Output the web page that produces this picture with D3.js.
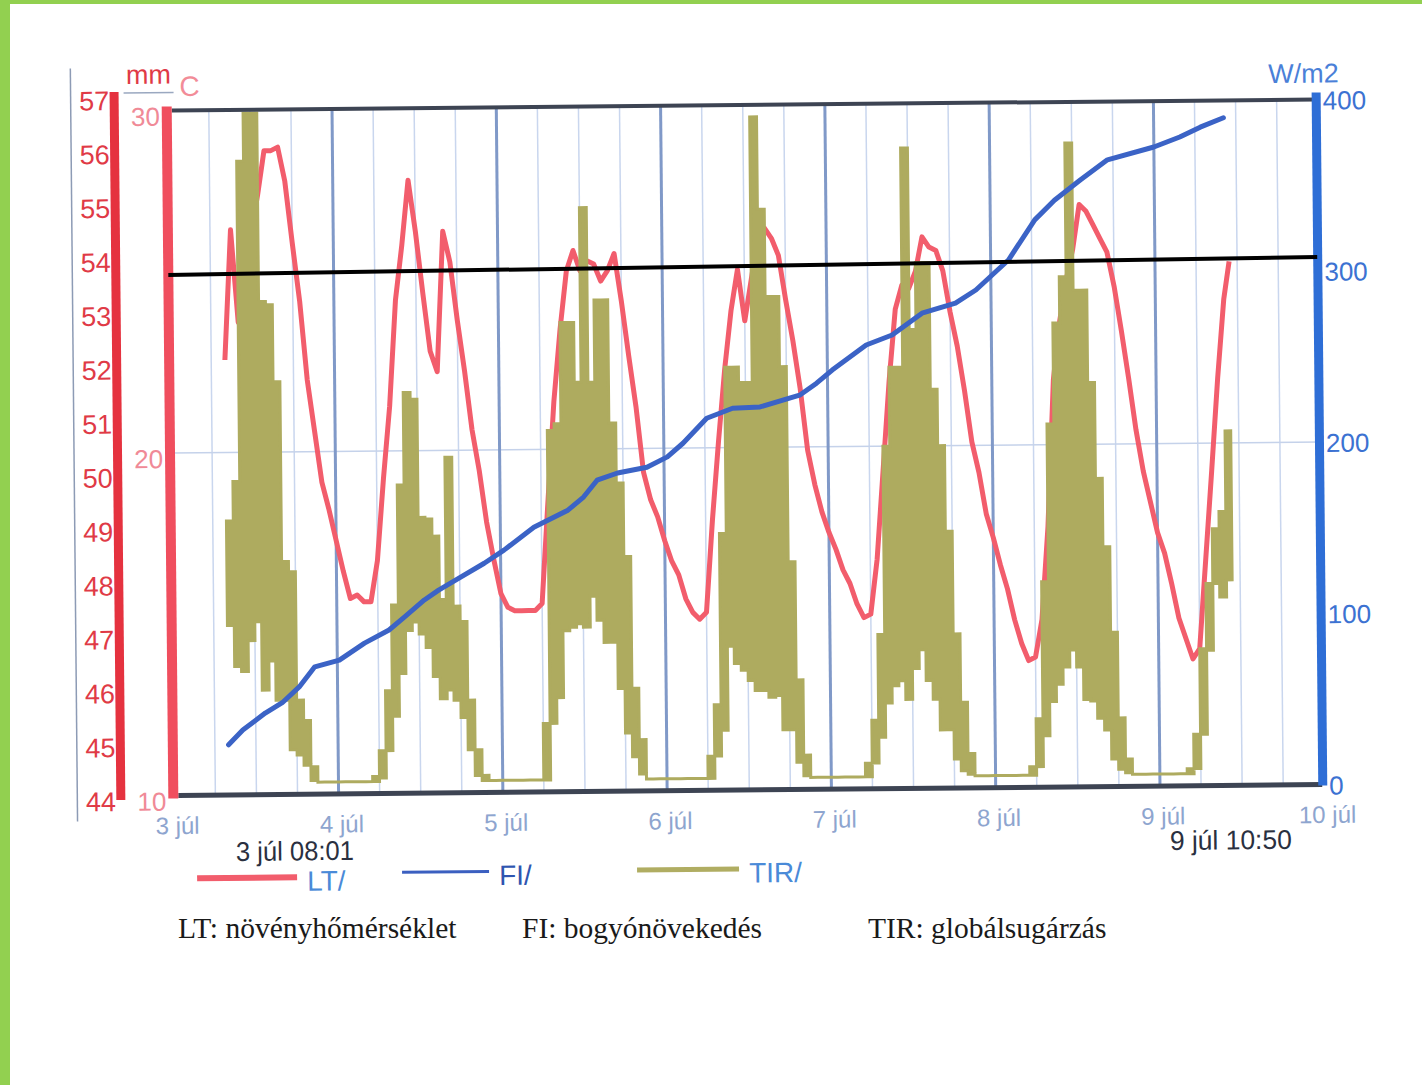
<!DOCTYPE html>
<html>
<head>
<meta charset="utf-8">
<script src="https://cdn.jsdelivr.net/npm/d3@7"></script>
<style>
  html, body { margin: 0; padding: 0; background: #fff; }
  svg { display: block; }
</style>
</head>
<body>
<svg id="chart" width="1422" height="1085"></svg>
<script>
// ---- data ---------------------------------------------------------
// time is in hours since 3 júl 00:00
const dayLabels = ["3 júl", "4 júl", "5 júl", "6 júl", "7 júl", "8 júl", "9 júl", "10 júl"];
const mmTicks = [44, 45, 46, 47, 48, 49, 50, 51, 52, 53, 54, 55, 56, 57];
const cTicks  = [10, 20, 30];
const wTicks  = [0, 100, 200, 300, 400];
const startLabel = "3 júl 08:01";
const endLabel   = "9 júl 10:50";
const firstHour  = 8;        // hourly series start (3 júl 08:00)
const endHour    = 154.83;   // 9 júl 10:50

// LT plant temperature, °C, one value per hour from firstHour
const ltTemp = [
  22.7, 26.5, 23.8, 24.7, 26.4, 27.5, 28.8, 28.8, 28.9, 27.9, 26.1, 24.4,
  22.1, 20.6, 19.1, 18.3, 17.4, 16.5, 15.7, 15.8, 15.6, 15.6, 16.8, 19.2,
  21.3, 24.4, 26.0, 27.9, 26.4, 24.6, 22.9, 22.3, 26.4, 25.5, 23.8, 22.3,
  20.6, 19.4, 17.9, 16.8, 15.8, 15.4, 15.3, 15.3, 15.3, 15.3, 15.5, 18.5,
  21.4, 23.5, 25.2, 25.8, 25.2, 25.5, 25.4, 24.9, 25.2, 25.7, 24.3, 22.7,
  21.2, 19.3, 18.5, 18.0, 17.3, 16.7, 16.3, 15.6, 15.2, 15.0, 15.2, 17.9,
  20.2, 22.3, 24.0, 25.2, 23.7, 24.9, 26.1, 26.4, 26.1, 25.6, 24.3, 23.1,
  21.7, 19.9, 18.9, 18.1, 17.5, 17.0, 16.4, 16.0, 15.4, 15.0, 15.1, 16.7,
  19.3, 21.9, 24.0, 24.7, 24.6, 25.1, 26.1, 25.8, 25.7, 25.1, 23.9, 22.9,
  21.6, 20.1, 19.2, 18.0, 17.3, 16.5, 15.8, 14.9, 14.2, 13.7, 13.8, 14.9,
  17.6, 21.9, 23.6, 24.8, 25.7, 27.0, 26.8, 26.4, 26.0, 25.6, 24.6, 23.3,
  21.9, 20.4, 19.2, 18.3, 17.4, 16.8, 15.9, 14.9, 14.3, 13.7, 14.0, 16.6,
  19.2, 21.9, 24.2, 25.3
];

// FI berry growth, mm
const fiHours = [
  8, 10.1, 13.4, 15.9, 18.4, 20.7, 24.3, 28.0, 31.6, 33.9, 36.8, 38.9,
  42.2, 45.6, 48.5, 52.9, 57.9, 60.2, 62.2, 65.2, 69.5, 72.5, 74.8, 78.3,
  82.1, 86.1, 91.9, 94.4, 96.7, 101.7, 105.5, 109.9, 114.8, 117.8, 122.6, 126.5,
  129.4, 133.2, 137.2, 144.0, 147.8, 150.8, 154.2
];
const fiMm = [
  44.95, 45.22, 45.53, 45.72, 46.01, 46.38, 46.50, 46.81, 47.05, 47.29, 47.60, 47.78,
  48.02, 48.27, 48.51, 48.93, 49.24, 49.48, 49.79, 49.92, 50.02, 50.21, 50.46, 50.92,
  51.10, 51.12, 51.33, 51.55, 51.79, 52.25, 52.43, 52.83, 53.01, 53.25, 53.80, 54.54,
  54.90, 55.27, 55.64, 55.87, 56.05, 56.23, 56.40
];

// TIR global radiation, W/m2: min and max inside each hour from firstHour
const tirLow = [
  99, 75, 72, 90, 101, 61, 78, 55, 55, 26, 23, 17, 8,
  7, 7, 7, 7, 7, 7, 7, 7,
  7, 9, 25, 45, 70, 95, 100, 93, 85, 68, 55, 60, 54, 44, 25, 10, 7,
  7, 7, 7, 7, 7, 7, 7, 7,
  7, 40, 55, 94, 96, 98, 96, 114, 100, 87, 87, 60, 34, 20, 10,
  7, 7, 7, 7, 7, 7, 7, 7, 7,
  7, 20, 35, 84, 74, 70, 64, 58, 58, 54, 55, 35, 35, 16, 8,
  7, 7, 7, 7, 7, 7, 7, 7,
  7, 15, 30, 50, 60, 63, 52, 70, 81, 63, 52, 34, 34, 17, 10, 8,
  7, 7, 7, 7, 7, 7, 7, 7,
  7, 12, 30, 50, 60, 70, 80, 70, 51, 50, 40, 33, 16, 10, 8,
  7, 7, 7, 7, 7, 7, 7, 7,
  7, 10, 30, 79, 118, 110, 120
];
const tirHigh = [
  160, 183, 370, 398, 398, 288, 286, 241, 136, 130, 55, 43, 16,
  7, 7, 7, 7, 7, 7, 7, 7,
  10, 25, 60, 110, 180, 234, 230, 161, 160, 150, 113, 196, 109, 100, 54, 25, 10,
  7, 7, 7, 7, 7, 7, 7, 7,
  40, 211, 215, 274, 274, 239, 341, 239, 287, 287, 215, 180, 137, 60, 30,
  7, 7, 7, 7, 7, 7, 7, 7, 7,
  20, 50, 150, 247, 247, 238, 238, 393, 339, 288, 288, 247, 133, 64, 20,
  7, 7, 7, 7, 7, 7, 7, 7,
  15, 40, 90, 200, 246, 246, 374, 268, 307, 307, 233, 200, 150, 90, 50, 20,
  7, 7, 7, 7, 7, 7, 7, 7,
  12, 40, 120, 212, 271, 298, 376, 290, 290, 236, 180, 140, 90, 40, 16,
  7, 7, 7, 7, 7, 7, 7, 7,
  10, 30, 80, 118, 150, 160, 207
];

// hand-drawn black line, °C at the left and right edge
const refLine = [25.2, 25.4];

const legendItems = [
  { label: "LT/",  color: "#f25d6c", width: 6, text: "#4a8ad8" },
  { label: "FI/",  color: "#3b5fc0", width: 3, text: "#2f55b0" },
  { label: "TIR/", color: "#b0ad62", width: 5, text: "#4a8ad8" }
];
const captions = ["LT: növényhőmérséklet", "FI: bogyónövekedés", "TIR: globálsugárzás"];

// ---- layout ---------------------------------------------------------
const W = 1422, H = 1085;
const sans  = "'Liberation Sans', Arial, sans-serif";
const serif = "'Liberation Serif', 'Times New Roman', serif";

const svg = d3.select("#chart");
svg.append("rect").attr("width", W).attr("height", H).attr("fill", "#fff");
// green page border
svg.append("rect").attr("x", 0).attr("y", 0).attr("width", 10).attr("height", H).attr("fill", "#92d050");
svg.append("rect").attr("x", 0).attr("y", 0).attr("width", W).attr("height", 4).attr("fill", "#92d050");

// the scan is slightly tilted
const g = svg.append("g").attr("transform", "rotate(-0.55 745 448)");

const x   = d3.scaleLinear().domain([0, 168]).range([171, 1321]);
const yC  = d3.scaleLinear().domain([10, 30]).range([790, 105]);
const yMm = d3.scaleLinear().domain([44, 57]).range([791, 90]);
const yW  = d3.scaleLinear().domain([0, 400]).range([790, 105]);
const [plotBottom, plotTop] = yC.range();
const [xL, xR] = x.range();

// grid
const minorHours = d3.range(6, 168, 6).filter(h => h % 24);
g.append("g").selectAll("line").data(minorHours).join("line")
  .attr("x1", d => x(d)).attr("x2", d => x(d))
  .attr("y1", plotTop).attr("y2", plotBottom)
  .attr("stroke", "#c9d6ee").attr("stroke-width", 1.5);
g.append("line")
  .attr("x1", xL).attr("x2", xR).attr("y1", yC(20)).attr("y2", yC(20))
  .attr("stroke", "#c5d2ea").attr("stroke-width", 1.5);
const dayHours = d3.range(24, 168, 24);
g.append("g").selectAll("line").data(dayHours).join("line")
  .attr("x1", d => x(d)).attr("x2", d => x(d))
  .attr("y1", plotTop).attr("y2", plotBottom)
  .attr("stroke", "#8099c8").attr("stroke-width", 3);

// LT
const lt = ltTemp.map((v, i) => ({ h: firstHour + i, v }));
g.append("path").datum(lt)
  .attr("d", d3.line().x(d => x(Math.min(d.h, endHour))).y(d => yC(d.v)))
  .attr("fill", "none").attr("stroke", "#f25d6c").attr("stroke-width", 5)
  .attr("stroke-linejoin", "round");

// TIR (min/max band per hour)
const tir = tirLow.map((lo, i) => ({ h: firstHour + i, lo, hi: tirHigh[i] }));
tir.push({ h: endHour, lo: tirLow[tirLow.length - 1], hi: tirHigh[tirHigh.length - 1] });
g.append("path").datum(tir)
  .attr("d", d3.area().x(d => x(d.h)).y0(d => yW(d.lo)).y1(d => yW(d.hi)).curve(d3.curveStepAfter))
  .attr("fill", "#aeab5f").attr("stroke", "#aeab5f").attr("stroke-width", 3);

// FI
const fi = fiHours.map((h, i) => ({ h, v: fiMm[i] }));
g.append("path").datum(fi)
  .attr("d", d3.line().x(d => x(d.h)).y(d => yMm(d.v)))
  .attr("fill", "none").attr("stroke", "#3b63c6").attr("stroke-width", 5)
  .attr("stroke-linejoin", "round").attr("stroke-linecap", "round");

// frame
g.append("line").attr("x1", xL + 4).attr("x2", xR - 2).attr("y1", plotTop).attr("y2", plotTop)
  .attr("stroke", "#3d4453").attr("stroke-width", 4);
g.append("line").attr("x1", xL + 4).attr("x2", xR - 2).attr("y1", plotBottom).attr("y2", plotBottom)
  .attr("stroke", "#3d4453").attr("stroke-width", 5);

// axis bars
const mmAxisX = 117.5;
g.append("line").attr("x1", 74).attr("x2", 74).attr("y1", 62).attr("y2", 815)
  .attr("stroke", "#8d9bb5").attr("stroke-width", 1.5);
g.append("rect").attr("x", mmAxisX - 4.5).attr("width", 9)
  .attr("y", yMm(57) - 4).attr("height", yMm(44) - yMm(57) + 7).attr("fill", "#e5323f");
g.append("rect").attr("x", xL - 6).attr("width", 10)
  .attr("y", plotTop - 4).attr("height", plotBottom - plotTop + 7).attr("fill", "#f04e5e");
g.append("rect").attr("x", xR - 6).attr("width", 9)
  .attr("y", plotTop - 7).attr("height", plotBottom - plotTop + 8).attr("fill", "#2e6ed6");

// black reference line
g.append("line")
  .attr("x1", xL - 1).attr("x2", xR - 2)
  .attr("y1", yC(refLine[0])).attr("y2", yC(refLine[1]))
  .attr("stroke", "#000").attr("stroke-width", 4);

// tick labels
g.append("g").selectAll("text").data(mmTicks).join("text")
  .attr("x", mmAxisX - 5).attr("y", d => yMm(d) + 5)
  .attr("text-anchor", "end").attr("dominant-baseline", "central")
  .attr("font-family", sans).attr("font-size", 27).attr("fill", "#e03a46")
  .text(d => d);
g.append("g").selectAll("text").data(cTicks).join("text")
  .attr("x", xL - 8).attr("y", d => yC(d) + 6)
  .attr("text-anchor", "end").attr("dominant-baseline", "central")
  .attr("font-family", sans).attr("font-size", 26).attr("fill", "#f08a97")
  .text(d => d);
g.append("g").selectAll("text").data(wTicks).join("text")
  .attr("x", xR + 5).attr("y", d => yW(d) + 1)
  .attr("text-anchor", "start").attr("dominant-baseline", "central")
  .attr("font-family", sans).attr("font-size", 26).attr("fill", "#3c72d2")
  .text(d => d);
g.append("g").selectAll("text").data(dayLabels).join("text")
  .attr("x", (d, i) => x(i * 24) + 3).attr("y", plotBottom + 30)
  .attr("text-anchor", "middle").attr("dominant-baseline", "central")
  .attr("font-family", sans).attr("font-size", 24).attr("fill", "#8ea5cf")
  .text(d => d);

// axis titles
g.append("text").attr("x", 152).attr("y", 69).attr("text-anchor", "middle").attr("dominant-baseline", "central")
  .attr("font-family", sans).attr("font-size", 27).attr("fill", "#e03a46").text("mm");
g.append("line").attr("x1", 127).attr("x2", 177).attr("y1", 87).attr("y2", 87)
  .attr("stroke", "#9aa8c0").attr("stroke-width", 1.5);
g.append("text").attr("x", 183).attr("y", 81).attr("dominant-baseline", "central")
  .attr("font-family", sans).attr("font-size", 28).attr("fill", "#f28c98").text("C");
g.append("text").attr("x", 1307).attr("y", 79).attr("text-anchor", "middle").attr("dominant-baseline", "central")
  .attr("font-family", sans).attr("font-size", 27).attr("fill", "#4a80d8").text("W/m2");

// start / end stamps
g.append("text").attr("x", 232).attr("y", 847).attr("dominant-baseline", "central")
  .attr("font-family", sans).attr("font-size", 27).attr("fill", "#2a3040")
  .attr("textLength", 118).attr("lengthAdjust", "spacingAndGlyphs").text(startLabel);
g.append("text").attr("x", 1166).attr("y", 845).attr("dominant-baseline", "central")
  .attr("font-family", sans).attr("font-size", 27).attr("fill", "#2a3040")
  .attr("textLength", 122).attr("lengthAdjust", "spacingAndGlyphs").text(endLabel);

// legend
const legendX = [193, 398, 633];
const legendLen = [100, 87, 102];
const legendY = [873, 869, 869];
const leg = g.append("g").selectAll("g").data(legendItems).join("g");
leg.append("line")
  .attr("x1", (d, i) => legendX[i]).attr("x2", (d, i) => legendX[i] + legendLen[i])
  .attr("y1", (d, i) => legendY[i]).attr("y2", (d, i) => legendY[i])
  .attr("stroke", d => d.color).attr("stroke-width", d => d.width);
leg.append("text")
  .attr("x", (d, i) => legendX[i] + legendLen[i] + 10).attr("y", (d, i) => legendY[i] + 4)
  .attr("dominant-baseline", "central")
  .attr("font-family", sans).attr("font-size", 28).attr("fill", d => d.text)
  .text(d => d.label);

// captions typed under the scan
const captionX = [178, 522, 868];
svg.append("g").selectAll("text").data(captions).join("text")
  .attr("x", (d, i) => captionX[i]).attr("y", 938)
  .attr("font-family", serif).attr("font-size", 29.5).attr("fill", "#1a1a1a")
  .text(d => d);
</script>
</body>
</html>
